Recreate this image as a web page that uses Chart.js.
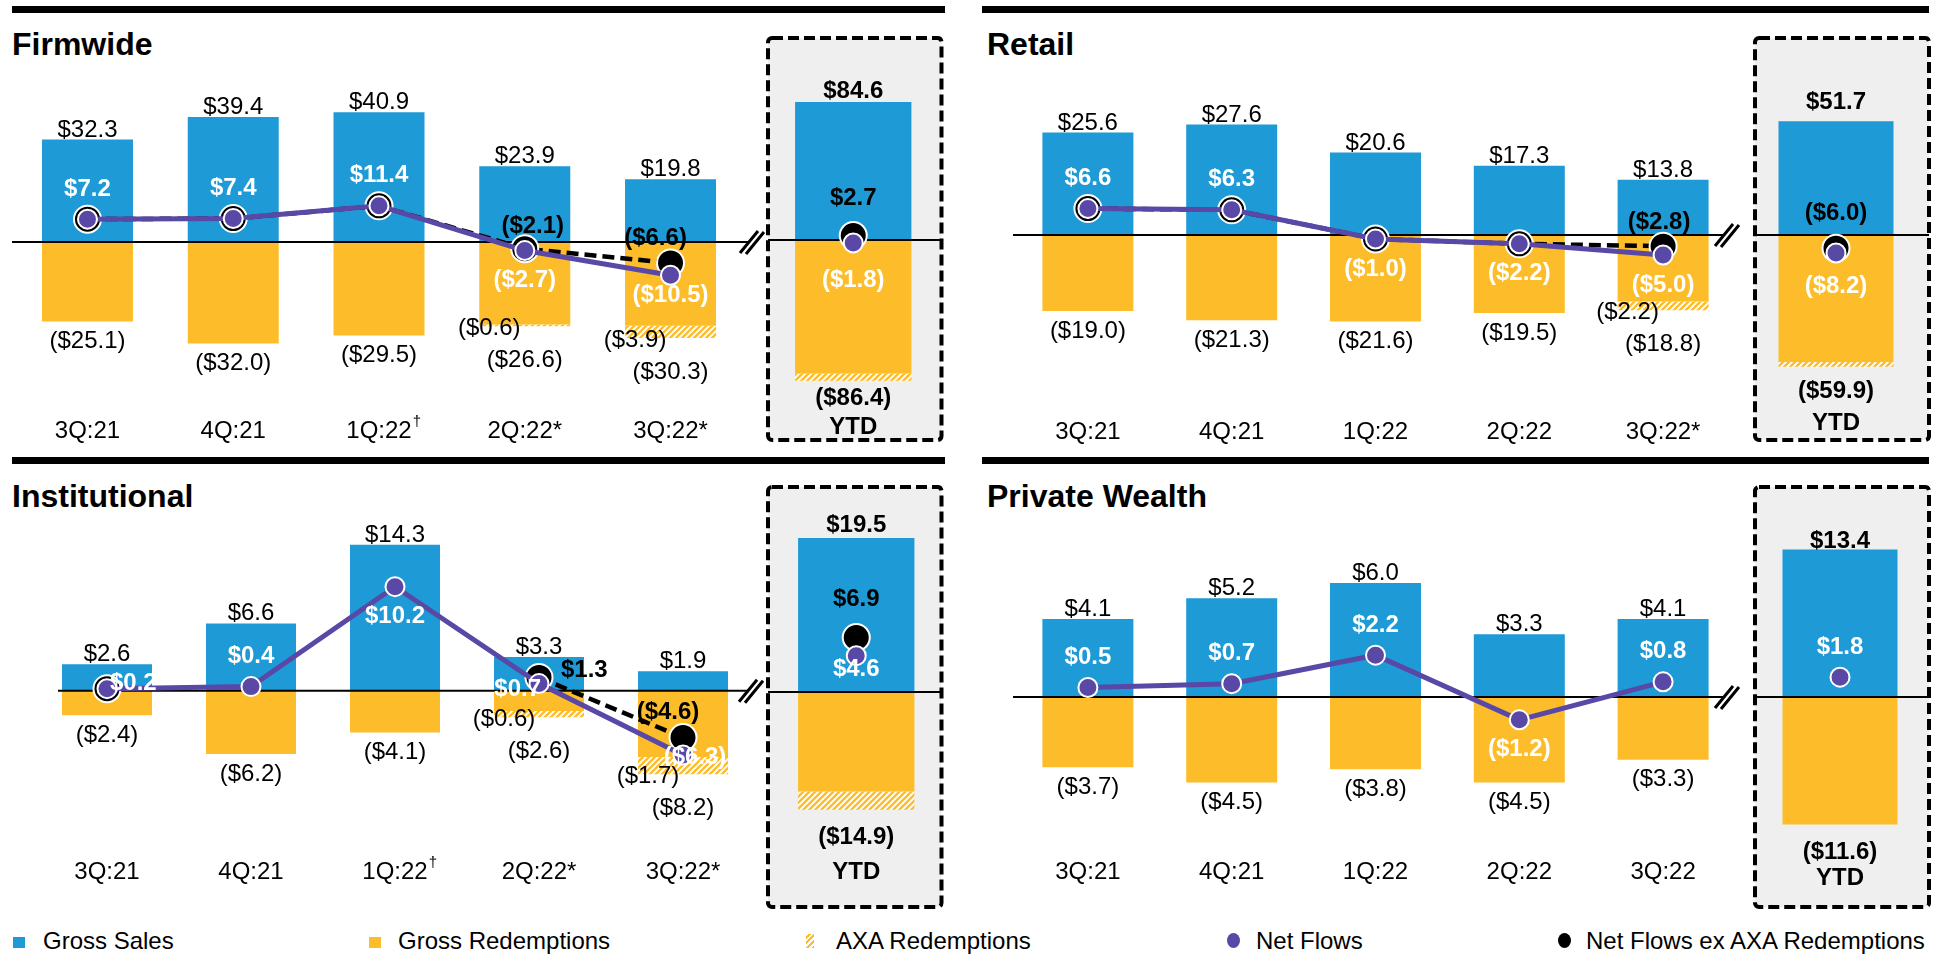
<!DOCTYPE html>
<html>
<head>
<meta charset="utf-8">
<title>Flows by channel</title>
<script src="https://cdn.jsdelivr.net/npm/chart.js@4.4.1/dist/chart.umd.min.js"></script>
<style>
  html, body { margin: 0; padding: 0; background: #fff; }
  body { position: relative; width: 1941px; height: 955px; overflow: hidden;
         font-family: "Liberation Sans", Arial, Helvetica, sans-serif; color: #000; }
  canvas { position: absolute; }
  .rule { position: absolute; height: 7px; background: #000; }
  .title { position: absolute; font-size: 32px; line-height: 32px; font-weight: bold; white-space: nowrap; }
  .sw { position: absolute; }
  .lg { position: absolute; font-size: 24px; line-height: 24px; white-space: nowrap; }
</style>
</head>
<body>
<div class="rule" style="left:12px;top:6px;width:933px"></div>
<div class="rule" style="left:982px;top:6px;width:947px"></div>
<div class="rule" style="left:12px;top:457px;width:933px"></div>
<div class="rule" style="left:982px;top:457px;width:947px"></div>
<div class="title" style="left:12px;top:28px">Firmwide</div>
<div class="title" style="left:987px;top:28px">Retail</div>
<div class="title" style="left:12px;top:480px">Institutional</div>
<div class="title" style="left:987px;top:480px">Private Wealth</div>

<div class="sw" style="left:13px;top:937px;width:12px;height:11px;background:#1e9ad6"></div>
<div class="lg" style="left:43px;top:929px">Gross Sales</div>
<div class="sw" style="left:369px;top:937px;width:12px;height:11px;background:#fdbd2a"></div>
<div class="lg" style="left:398px;top:929px">Gross Redemptions</div>
<div class="sw" style="left:806px;top:934px;width:8px;height:14px;background:repeating-linear-gradient(-45deg,#fdbd2a 0 2px,#fff 2px 4px)"></div>
<div class="lg" style="left:836px;top:929px">AXA Redemptions</div>
<div class="sw" style="left:1227px;top:933px;width:13px;height:15px;border-radius:50%;background:#5a48a6"></div>
<div class="lg" style="left:1256px;top:929px">Net Flows</div>
<div class="sw" style="left:1558px;top:933px;width:13px;height:15px;border-radius:50%;background:#000"></div>
<div class="lg" style="left:1586px;top:929px">Net Flows ex AXA Redemptions</div>

<script>
// ---- Data ($ billions) ----
const firmwideTicks = ['3Q:21', '4Q:21', '1Q:22†', '2Q:22*', '3Q:22*'];
const retailTicks = ['3Q:21', '4Q:21', '1Q:22', '2Q:22', '3Q:22*'];
const institutionalTicks = ['3Q:21', '4Q:21', '1Q:22†', '2Q:22*', '3Q:22*'];
const privateWealthTicks = ['3Q:21', '4Q:21', '1Q:22', '2Q:22', '3Q:22'];

const firmwideSales = [32.3, 39.4, 40.9, 23.9, 19.8];
const firmwideRedemptions = [-25.1, -32.0, -29.5, -26.6, -30.3];
const firmwideAxa = [0, 0, 0, -0.6, -3.9];
const firmwideNet = [7.2, 7.4, 11.4, -2.7, -10.5];
const firmwideNetExAxa = [7.2, 7.4, 11.4, -2.1, -6.6];

const retailSales = [25.6, 27.6, 20.6, 17.3, 13.8];
const retailRedemptions = [-19.0, -21.3, -21.6, -19.5, -18.8];
const retailAxa = [0, 0, 0, 0, -2.2];
const retailNet = [6.6, 6.3, -1.0, -2.2, -5.0];
const retailNetExAxa = [6.6, 6.3, -1.0, -2.2, -2.8];

const institutionalSales = [2.6, 6.6, 14.3, 3.3, 1.9];
const institutionalRedemptions = [-2.4, -6.2, -4.1, -2.6, -8.2];
const institutionalAxa = [0, 0, 0, -0.6, -1.7];
const institutionalNet = [0.2, 0.4, 10.2, 0.7, -6.3];
const institutionalNetExAxa = [0.2, null, null, 1.3, -4.6];

const privateWealthSales = [4.1, 5.2, 6.0, 3.3, 4.1];
const privateWealthRedemptions = [-3.7, -4.5, -3.8, -4.5, -3.3];
const privateWealthAxa = [0, 0, 0, 0, 0];
const privateWealthNet = [0.5, 0.7, 2.2, -1.2, 0.8];

// year-to-date totals: Firmwide, Retail, Institutional, Private Wealth
const ytdSales = [84.6, 51.7, 19.5, 13.4];
const ytdRedemptions = [-86.4, -59.9, -14.9, -11.6];
const ytdAxa = [-4.5, -2.2, -2.3, 0];
const ytdNet = [-1.8, -8.2, 4.6, 1.8];
const ytdNetExAxa = [2.7, -6.0, 6.9, null];

// ---- Styles ----
const BLUE = '#1e9ad6', YELLOW = '#fdbd2a', PURPLE = '#5a48a6', BOX_GREY = '#efefef';
const FAMILY = '"Liberation Sans", Arial, Helvetica, sans-serif';
const F_REG = '24px ' + FAMILY, F_BOLD = 'bold 24px ' + FAMILY, F_SUP = '15px ' + FAMILY;

function hatchPattern() {
  const c = document.createElement('canvas');
  c.width = 6; c.height = 6;
  const g = c.getContext('2d');
  g.fillStyle = '#fff'; g.fillRect(0, 0, 6, 6);
  g.strokeStyle = YELLOW; g.lineWidth = 2.3;
  g.beginPath();
  g.moveTo(-3, 3); g.lineTo(3, -3);
  g.moveTo(-1, 7); g.lineTo(7, -1);
  g.moveTo(3, 9); g.lineTo(9, 3);
  g.stroke();
  return g.createPattern(c, 'repeat');
}
const HATCH = hatchPattern();

const fmt = v => (v < 0 ? '($' + Math.abs(v).toFixed(1) + ')' : '$' + v.toFixed(1));

// ---- Panel layout (page pixels) ----
const panels = [
  { ticks: firmwideTicks, sales: firmwideSales, red: firmwideRedemptions, axa: firmwideAxa,
    net: firmwideNet, ex: firmwideNetExAxa, k: 0,
    netSide: ['above', 'above', 'above', 'below', 'near'],
    exSide: ['above', 'above', 'above', 'aboveRight', 'aboveLeft'],
    q: { left: 0, top: 60, width: 767, height: 390, areaL: 14.6, areaR: 743.4, zero: 242, unit: 3.17,
         barW: 91, catY: 431, breakX: 752, lineL: 12 },
    y: { l: 768, r: 941.5, t: 38, b: 440, barX: 853, barW: 116, zero: 240, unit: 1.63,
         salesGap: 4, redDy: 18, ytdGap: 29, netDy: 37, exDy: -37 } },
  { ticks: retailTicks, sales: retailSales, red: retailRedemptions, axa: retailAxa,
    net: retailNet, ex: retailNetExAxa, k: 1,
    netSide: ['above', 'above', 'below', 'below', 'below'],
    exSide: ['above', 'above', 'above', 'above', 'above'],
    q: { left: 970, top: 60, width: 782, height: 390, areaL: 1016, areaR: 1735, zero: 235, unit: 4.0,
         barW: 91, catY: 432, breakX: 1727, lineL: 1013 },
    y: { l: 1755, r: 1929, t: 38, b: 440, barX: 1836, barW: 115, zero: 235, unit: 2.2,
         salesGap: 12, redDy: 25, ytdGap: 32, netDy: 33, exDy: -35 } },
  { ticks: institutionalTicks, sales: institutionalSales, red: institutionalRedemptions, axa: institutionalAxa,
    net: institutionalNet, ex: institutionalNetExAxa, k: 2,
    netSide: ['right', 'above', 'below', 'left', 'on'],
    exSide: ['above', 'above', 'above', 'right', 'aboveLeft'],
    q: { left: 0, top: 500, width: 767, height: 405, areaL: 35, areaR: 755, zero: 690.7, unit: 10.2,
         barW: 90, catY: 872, breakX: 751, lineL: 58 },
    y: { l: 768, r: 941.5, t: 487, b: 907, barX: 856, barW: 116, zero: 692, unit: 7.9,
         salesGap: 6, redDy: 28, ytdGap: 35, netDy: 14, exDy: -38 } },
  { ticks: privateWealthTicks, sales: privateWealthSales, red: privateWealthRedemptions, axa: privateWealthAxa,
    net: privateWealthNet, ex: null, k: 3,
    netSide: ['above', 'above', 'above', 'below', 'above'], exSide: null,
    q: { left: 970, top: 500, width: 782, height: 405, areaL: 1016, areaR: 1735, zero: 697, unit: 19,
         barW: 91, catY: 872, breakX: 1727, lineL: 1013 },
    y: { l: 1755, r: 1929, t: 487, b: 907, barX: 1840, barW: 115, zero: 697, unit: 11,
         salesGap: 2, redDy: 28, ytdGap: 26, netDy: -30, exDy: -36 } }
];

function makeCanvas(left, top, width, height) {
  const c = document.createElement('canvas');
  c.width = Math.round(width); c.height = Math.round(height);
  c.style.left = Math.round(left) + 'px'; c.style.top = Math.round(top) + 'px';
  c.style.width = c.width + 'px'; c.style.height = c.height + 'px';
  document.body.appendChild(c);
  return c;
}

function text(ctx, str, x, y, font, color, align, baseline) {
  ctx.font = font; ctx.fillStyle = color;
  ctx.textAlign = align || 'center'; ctx.textBaseline = baseline || 'middle';
  ctx.fillText(str, x, y);
}

function tickLabel(ctx, str, x, y) {
  const dagger = str.endsWith('†');
  const main = dagger ? str.slice(0, -1) : str;
  ctx.font = F_REG;
  const w = ctx.measureText(main).width;
  const x0 = x - w / 2;
  text(ctx, main, x0, y, F_REG, '#000', 'left', 'middle');
  if (dagger) text(ctx, '†', x0 + w + 1, y - 9, F_SUP, '#000', 'left', 'middle');
}

function drawBreak(ctx, x, y) {
  ctx.save();
  ctx.fillStyle = '#fff';
  ctx.beginPath();
  ctx.moveTo(x - 12, y + 11); ctx.lineTo(x + 6, y - 11);
  ctx.lineTo(x + 12, y - 10); ctx.lineTo(x - 6, y + 12);
  ctx.closePath(); ctx.fill();
  ctx.strokeStyle = '#000'; ctx.lineWidth = 3;
  ctx.beginPath();
  ctx.moveTo(x - 12, y + 11); ctx.lineTo(x + 6, y - 11);
  ctx.moveTo(x - 6, y + 12); ctx.lineTo(x + 12, y - 10);
  ctx.stroke();
  ctx.restore();
}

// white net-flow label placed relative to its marker
function netLabel(ctx, value, pt, side) {
  const s = fmt(value);
  if (side === 'above') text(ctx, s, pt.x, pt.y - 30, F_BOLD, '#fff');
  else if (side === 'below') text(ctx, s, pt.x, pt.y + 30, F_BOLD, '#fff');
  else if (side === 'near') text(ctx, s, pt.x, pt.y + 20, F_BOLD, '#fff');
  else if (side === 'on') text(ctx, s, pt.x + 12, pt.y + 2, F_BOLD, '#fff');
  else if (side === 'right') text(ctx, s, pt.x + 3, pt.y - 5, F_BOLD, '#fff', 'left');
  else text(ctx, s, pt.x + 2, pt.y + 6, F_BOLD, '#fff', 'right');
}

function datasetsFor(sales, red, axa, net, ex) {
  return [
    { type: 'line', label: 'Net Flows', data: net, yAxisID: 'yl', order: 1,
      borderColor: PURPLE, borderWidth: 5, fill: false, tension: 0,
      pointRadius: 9.5, pointBackgroundColor: PURPLE, pointBorderColor: '#fff', pointBorderWidth: 2 },
    { type: 'line', label: 'Net Flows ex AXA Redemptions', data: ex || net.map(() => null), yAxisID: 'yl', order: 2,
      borderColor: '#000', borderWidth: 4.5, borderDash: [12, 6], fill: false, tension: 0, spanGaps: false,
      pointRadius: 13.5, pointBackgroundColor: '#000', pointBorderColor: '#fff', pointBorderWidth: 2 },
    { type: 'bar', label: 'Gross Sales', data: sales, stack: 'flows', order: 3, backgroundColor: BLUE },
    { type: 'bar', label: 'Gross Redemptions', data: red.map((r, i) => +(r - axa[i]).toFixed(2)),
      stack: 'flows', order: 4, backgroundColor: YELLOW },
    { type: 'bar', label: 'AXA Redemptions', data: axa.map(v => (v ? v : null)),
      stack: 'flows', order: 5, backgroundColor: HATCH }
  ];
}

function baseOptions(pad, pct, min, max) {
  return {
    responsive: false, animation: false, devicePixelRatio: 1, events: [],
    layout: { autoPadding: false, padding: pad },
    plugins: { legend: { display: false }, tooltip: { enabled: false } },
    datasets: { bar: { categoryPercentage: 1, barPercentage: pct, borderWidth: 0 } },
    scales: {
      x: { display: false, stacked: true, offset: true },
      y: { display: false, stacked: true, min: min, max: max },
      yl: { display: false, min: min, max: max }
    }
  };
}

function quarterChart(p) {
  const q = p.q;
  const canvas = makeCanvas(q.left, q.top, q.width, q.height);
  const padL = q.areaL - q.left, padR = q.left + q.width - q.areaR;
  const pct = q.barW / ((q.areaR - q.areaL) / p.sales.length);
  const max = (q.zero - q.top) / q.unit, min = -(q.top + q.height - q.zero) / q.unit;
  const overlay = {
    id: 'quarterOverlay',
    // after the bars and before the lines: zero axis and break mark
    afterDatasetDraw(chart, args) {
      if (args.index !== 2) return;
      const ctx = chart.ctx, y0 = chart.scales.y.getPixelForValue(0);
      ctx.save();
      ctx.strokeStyle = '#000'; ctx.lineWidth = 2;
      ctx.beginPath(); ctx.moveTo(q.lineL - q.left, y0); ctx.lineTo(q.breakX - q.left, y0); ctx.stroke();
      ctx.restore();
      drawBreak(ctx, q.breakX - q.left, y0);
    },
    afterDraw(chart) {
      const ctx = chart.ctx;
      const mN = chart.getDatasetMeta(0), mE = chart.getDatasetMeta(1);
      const mS = chart.getDatasetMeta(2), mR = chart.getDatasetMeta(3), mA = chart.getDatasetMeta(4);
      p.net.forEach((v, i) => netLabel(ctx, v, mN.data[i], p.netSide[i]));
      p.sales.forEach((v, i) => {
        const s = mS.data[i];
        text(ctx, fmt(v), s.x, s.y - 3, F_REG, '#000', 'center', 'alphabetic');
        const hasAxa = !!p.axa[i];
        const bottom = hasAxa ? mA.data[i].y : mR.data[i].y;
        text(ctx, fmt(p.red[i]), s.x, bottom + (hasAxa ? 34 : 20), F_REG, '#000');
        if (hasAxa) text(ctx, fmt(p.axa[i]), s.x - s.width / 2 + 10, bottom + 2, F_REG, '#000');
        // net flows excluding AXA, labelled only where it differs
        if (p.ex && p.ex[i] !== null && p.ex[i] !== p.net[i]) {
          const e = mE.data[i], es = p.exSide[i];
          if (es === 'right') text(ctx, fmt(p.ex[i]), e.x + 22, e.y - 7, F_BOLD, '#000', 'left');
          else if (es === 'aboveLeft') text(ctx, fmt(p.ex[i]), e.x - 15, e.y - 25, F_BOLD, '#000');
          else if (es === 'aboveRight') text(ctx, fmt(p.ex[i]), e.x + 8, e.y - 22, F_BOLD, '#000');
          else text(ctx, fmt(p.ex[i]), e.x - 4, e.y - 24, F_BOLD, '#000');
        }
        tickLabel(ctx, p.ticks[i], chart.scales.x.getPixelForValue(i), q.catY - q.top);
      });
    }
  };
  new Chart(canvas, {
    type: 'bar',
    data: { labels: p.ticks, datasets: datasetsFor(p.sales, p.red, p.axa, p.net, p.ex) },
    options: baseOptions({ left: padL, right: padR, top: 0, bottom: 0 }, pct, min, max),
    plugins: [overlay]
  });
}

function ytdChart(p) {
  const b = p.y, k = p.k;
  const left = b.l - 4, top = b.t - 4, width = b.r - b.l + 8, height = b.b - b.t + 8;
  const canvas = makeCanvas(left, top, width, height);
  const half = Math.min(b.barX - left, left + width - b.barX);
  const padL = b.barX - half - left, padR = left + width - (b.barX + half);
  const pct = b.barW / (2 * half);
  const max = (b.zero - top) / b.unit, min = -(top + height - b.zero) / b.unit;
  const bx0 = b.l - left, bx1 = b.r - left, by0 = b.t - top, by1 = b.b - top;
  const overlay = {
    id: 'ytdOverlay',
    beforeDraw(chart) {
      const ctx = chart.ctx;
      ctx.save();
      ctx.fillStyle = BOX_GREY;
      ctx.beginPath(); ctx.roundRect(bx0, by0, bx1 - bx0, by1 - by0, 4); ctx.fill();
      ctx.strokeStyle = '#000'; ctx.lineWidth = 4; ctx.setLineDash([11, 5]);
      ctx.stroke();
      ctx.restore();
    },
    afterDatasetDraw(chart, args) {
      if (args.index !== 2) return;
      const ctx = chart.ctx, y0 = chart.scales.y.getPixelForValue(0);
      ctx.save();
      ctx.strokeStyle = '#000'; ctx.lineWidth = 2;
      ctx.beginPath(); ctx.moveTo(bx0, y0); ctx.lineTo(bx1, y0); ctx.stroke();
      ctx.restore();
    },
    afterDraw(chart) {
      const ctx = chart.ctx;
      const s = chart.getDatasetMeta(2).data[0];
      const hasAxa = !!ytdAxa[k];
      const bottom = hasAxa ? chart.getDatasetMeta(4).data[0].y : chart.getDatasetMeta(3).data[0].y;
      text(ctx, fmt(ytdSales[k]), s.x, s.y - b.salesGap, F_BOLD, '#000', 'center', 'alphabetic');
      const redY = bottom + b.redDy;
      text(ctx, fmt(ytdRedemptions[k]), s.x, redY, F_BOLD, '#000');
      text(ctx, 'YTD', s.x, redY + b.ytdGap, F_BOLD, '#000');
      const n = chart.getDatasetMeta(0).data[0];
      text(ctx, fmt(ytdNet[k]), n.x, n.y + b.netDy, F_BOLD, '#fff');
      if (ytdNetExAxa[k] !== null) {
        const e = chart.getDatasetMeta(1).data[0];
        text(ctx, fmt(ytdNetExAxa[k]), e.x, e.y + b.exDy, F_BOLD, '#000');
      }
    }
  };
  new Chart(canvas, {
    type: 'bar',
    data: { labels: ['YTD'],
            datasets: datasetsFor([ytdSales[k]], [ytdRedemptions[k]], [ytdAxa[k]], [ytdNet[k]],
                                  ytdNetExAxa[k] === null ? null : [ytdNetExAxa[k]]) },
    options: baseOptions({ left: padL, right: padR, top: 0, bottom: 0 }, pct, min, max),
    plugins: [overlay]
  });
}

panels.forEach(p => { quarterChart(p); ytdChart(p); });
</script>
</body>
</html>
